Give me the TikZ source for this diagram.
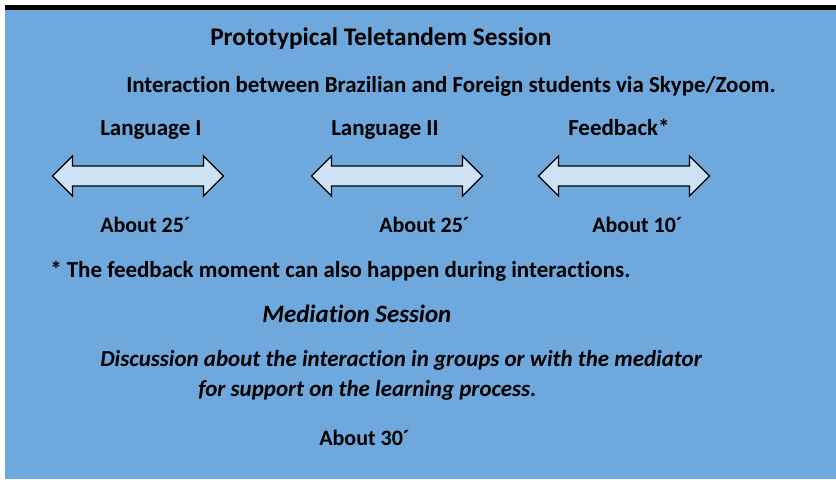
\documentclass[tikz,border=0pt]{standalone}
\usepackage{fontspec}
\setmainfont{Carlito}[Ligatures=NoCommon]
\usetikzlibrary{shapes,positioning}
\definecolor{bgblue}{RGB}{111,168,220}
\definecolor{arrowfill}{RGB}{207,226,243}

\begin{document}
\begin{tikzpicture}[x=0.75pt,y=-0.75pt,
  lbl/.style={anchor=base west,inner sep=0pt,font=\fontsize{17.2}{20}\selectfont\bfseries},
  timelbl/.style={lbl,font=\fontsize{16.5}{20}\selectfont\bfseries},
  head/.style={lbl,font=\fontsize{19}{22}\selectfont\bfseries},
  itl/.style={lbl,font=\fontsize{17.2}{20}\selectfont\bfseries\itshape},
  ithead/.style={lbl,font=\fontsize{18.7}{22}\selectfont\bfseries\itshape},
  darrow/.style={double arrow,draw=black,fill=arrowfill,line width=0.9pt,
    minimum height=128.25pt,inner xsep=0pt,inner ysep=7.1pt,
    double arrow head extend=7.5pt}]
\useasboundingbox (0,0) rectangle (836,479);
\fill[white] (0,0) rectangle (836,479);
\fill[bgblue] (5,10) rectangle (836,479);
\fill[black] (5,5) rectangle (836,10);

% session
\node[head] (title) at (210,45) {Prototypical Teletandem Session};
\node[lbl] (inter) at (126,92) {Interaction between Brazilian and Foreign students via Skype/Zoom.};

% moments
\node[lbl] (lang1) at (100,135) {Language I};
\node[lbl] (lang2) at (331,135) {Language II};
\node[lbl] (feed) at (568,135) {Feedback*};

\node[darrow] (arr1) at (138,176) {};
\node[darrow] (arr2) at (397,176) {};
\node[darrow] (arr3) at (624,176) {};

\node[timelbl] (time1) at (100,232) {About 25´};
\node[timelbl] (time2) at (379,232) {About 25´};
\node[timelbl] (time3) at (592,232) {About 10´};

\node[lbl] (note) at (50,277) {* The feedback moment can also happen during interactions.};

% mediation
\node[ithead] (med) at (262,322) {Mediation Session};
\node[itl] (disc1) at (100,366) {Discussion about the interaction in groups or with the mediator};
\node[itl] (disc2) at (198,396) {for support on the learning process.};
\node[timelbl] (time4) at (319,445) {About 30´};
\end{tikzpicture}
\end{document}
